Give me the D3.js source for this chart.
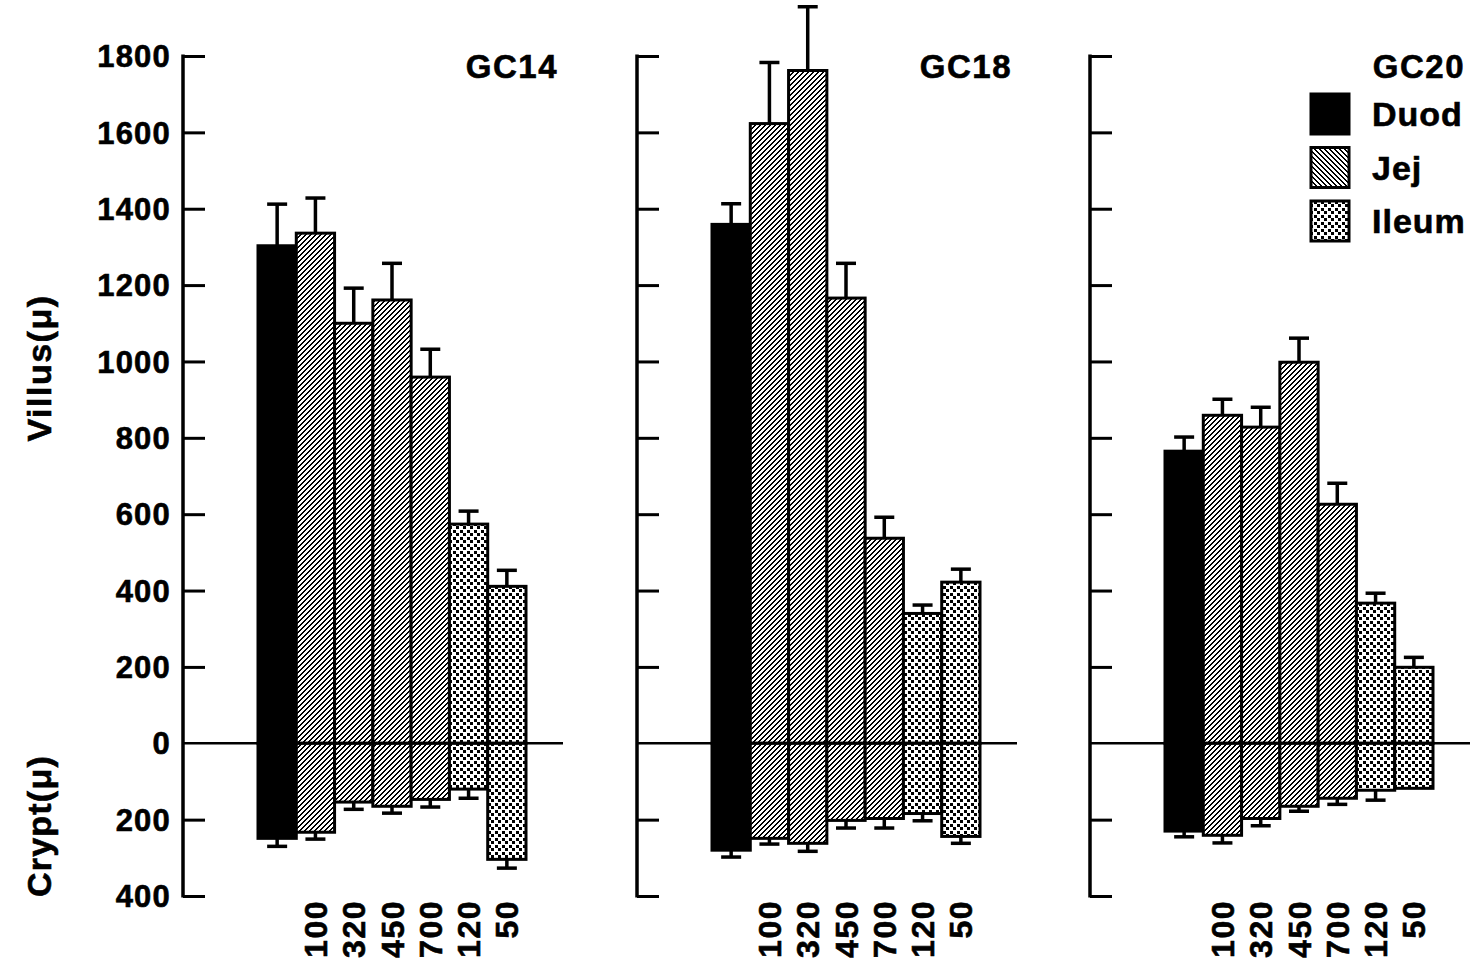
<!DOCTYPE html>
<html>
<head>
<meta charset="utf-8">
<script src="https://cdn.jsdelivr.net/npm/d3@7"></script>
<style>
  body { margin: 0; background: #fff; }
  text { font-family: "Liberation Sans", Arial, sans-serif; font-weight: bold; fill: #000; stroke: #000; stroke-width: 0.6px; }
</style>
</head>
<body>
<div id="chart"></div>
<script>
// panels and bars
var panels = ["GC14", "GC18", "GC20"];
var bars = ["Duod", "100", "320", "450", "700", "120", "50"];
var segment = ["Duod", "Jej", "Jej", "Jej", "Jej", "Ileum", "Ileum"];
var legendNames = ["Duod", "Jej", "Ileum"];

// villus height and its error (microns)
var villusGC14 = [1303, 1336, 1100, 1161, 959, 574, 411];
var villusErrGC14 = [109, 92, 92, 96, 73, 34, 42];
var villusGC18 = [1359, 1623, 1762, 1166, 537, 340, 422];
var villusErrGC18 = [54, 160, 167, 91, 55, 22, 34];
var villusGC20 = [765, 859, 828, 998, 626, 367, 199];
var villusErrGC20 = [37, 42, 52, 63, 55, 26, 26];

// crypt depth and its error (microns, drawn below zero)
var cryptGC14 = [249, 233, 154, 165, 147, 120, 304];
var cryptErrGC14 = [21, 18, 19, 18, 20, 24, 23];
var cryptGC18 = [280, 249, 262, 202, 197, 184, 244];
var cryptErrGC18 = [18, 15, 21, 20, 25, 19, 18];
var cryptGC20 = [230, 241, 197, 165, 144, 123, 118];
var cryptErrGC20 = [15, 20, 19, 13, 16, 26, 0];

var yTicks = [-400, -200, 0, 200, 400, 600, 800, 1000, 1200, 1400, 1600, 1800];

var villus = [villusGC14, villusGC18, villusGC20];
var villusErr = [villusErrGC14, villusErrGC18, villusErrGC20];
var crypt = [cryptGC14, cryptGC18, cryptGC20];
var cryptErr = [cryptErrGC14, cryptErrGC18, cryptErrGC20];

var width = 1473, height = 967;
var axisX = [183, 637, 1090];

var svg = d3.select("#chart").append("svg").attr("width", width).attr("height", height);
var defs = svg.append("defs");

// pixel stair hatch so the stripes stay crisp; dir 1 = "/", -1 = "\"
function hatch(id, dir) {
    var n = 5;
    var p = defs.append("pattern").attr("id", id).attr("patternUnits", "userSpaceOnUse")
        .attr("width", n).attr("height", n).attr("shape-rendering", "crispEdges");
    p.append("rect").attr("width", n).attr("height", n).attr("fill", "#fff");
    for (var r = 0; r < n; r++) {
        var x0 = dir > 0 ? n - 1 - r : r;
        [x0, x0 - n].forEach(function(x) {
            p.append("rect").attr("x", x).attr("y", r).attr("width", 2).attr("height", 1).attr("fill", "#000");
        });
    }
}
hatch("hatch", 1);
hatch("hatchLegend", -1);

var dots = defs.append("pattern").attr("id", "dots").attr("patternUnits", "userSpaceOnUse")
    .attr("width", 7).attr("height", 7).attr("shape-rendering", "crispEdges");
dots.append("rect").attr("width", 7).attr("height", 7).attr("fill", "#fff");
dots.append("rect").attr("x", 1).attr("y", 1).attr("width", 3).attr("height", 3).attr("fill", "#000");
dots.append("rect").attr("x", 4.5).attr("y", 4.5).attr("width", 3).attr("height", 3).attr("fill", "#000");
dots.append("rect").attr("x", -2.5).attr("y", 4.5).attr("width", 3).attr("height", 3).attr("fill", "#000");
dots.append("rect").attr("x", 4.5).attr("y", -2.5).attr("width", 3).attr("height", 3).attr("fill", "#000");
dots.append("rect").attr("x", -2.5).attr("y", -2.5).attr("width", 3).attr("height", 3).attr("fill", "#000");

var fills = { "Duod": "#000", "Jej": "url(#hatch)", "Ileum": "url(#dots)" };
var legendFills = { "Duod": "#000", "Jej": "url(#hatchLegend)", "Ileum": "url(#dots)" };

var y = d3.scaleLinear().domain([-400, 1800]).range([896, 56]);

panels.forEach(function(name, p) {
    var ax = axisX[p];
    var x = d3.scaleBand().domain(bars).range([ax + 75, ax + 343]).padding(0);
    var g = svg.append("g");

    // axis with ticks pointing inward
    var axis = d3.axisRight(y).tickValues(yTicks.filter(function(t){ return t !== 0; }))
        .tickSize(22).tickFormat("");
    var ag = g.append("g").attr("transform", "translate(" + ax + ",0)").call(axis);
    ag.select(".domain").remove();
    ag.selectAll(".tick line").attr("stroke", "#000").attr("stroke-width", 3);
    g.append("line").attr("x1", ax).attr("x2", ax).attr("y1", y(1800) - 1.5).attr("y2", y(-400) + 1.5)
        .attr("stroke", "#000").attr("stroke-width", 3.5);

    if (p === 0) {
        g.selectAll(".ylab").data(yTicks).enter().append("text")
            .attr("x", ax - 12).attr("y", function(d){ return y(d); }).attr("dy", "0.36em")
            .attr("text-anchor", "end").attr("font-size", 31).attr("letter-spacing", 1.2)
            .text(function(d){ return Math.abs(d); });
    }

    var data = bars.map(function(b, i) {
        return { bar: b, seg: segment[i], v: villus[p][i], ve: villusErr[p][i], c: crypt[p][i], ce: cryptErr[p][i] };
    });
    var cx = function(d){ return x(d.bar) + x.bandwidth() / 2; };

    // error bars
    var err = g.selectAll(".err").data(data).enter().append("g")
        .attr("stroke", "#000").attr("stroke-width", 3.5);
    err.append("line").attr("x1", cx).attr("x2", cx)
        .attr("y1", function(d){ return y(d.v); }).attr("y2", function(d){ return y(d.v + d.ve); });
    err.append("line")
        .attr("x1", function(d){ return cx(d) - 10; }).attr("x2", function(d){ return cx(d) + 10; })
        .attr("y1", function(d){ return y(d.v + d.ve); }).attr("y2", function(d){ return y(d.v + d.ve); });
    var ce = err.filter(function(d){ return d.ce > 0; });
    ce.append("line").attr("x1", cx).attr("x2", cx)
        .attr("y1", function(d){ return y(-d.c); }).attr("y2", function(d){ return y(-d.c - d.ce); });
    ce.append("line")
        .attr("x1", function(d){ return cx(d) - 10; }).attr("x2", function(d){ return cx(d) + 10; })
        .attr("y1", function(d){ return y(-d.c - d.ce); }).attr("y2", function(d){ return y(-d.c - d.ce); });

    // villus bars (up) and crypt bars (down)
    g.selectAll(".villus").data(data).enter().append("rect")
        .attr("x", function(d){ return x(d.bar); }).attr("width", x.bandwidth())
        .attr("y", function(d){ return y(d.v); }).attr("height", function(d){ return y(0) - y(d.v); })
        .attr("fill", function(d){ return fills[d.seg]; })
        .attr("stroke", "#000").attr("stroke-width", 3);
    g.selectAll(".crypt").data(data).enter().append("rect")
        .attr("x", function(d){ return x(d.bar); }).attr("width", x.bandwidth())
        .attr("y", y(0)).attr("height", function(d){ return y(-d.c) - y(0); })
        .attr("fill", function(d){ return fills[d.seg]; })
        .attr("stroke", "#000").attr("stroke-width", 3);

    // zero line
    g.append("line").attr("x1", ax).attr("x2", ax + 380).attr("y1", y(0)).attr("y2", y(0))
        .attr("stroke", "#000").attr("stroke-width", 2.5);

    // bar labels under the axis
    g.selectAll(".blab").data(bars.slice(1)).enter().append("text")
        .attr("transform", function(d){ return "translate(" + (x(d) + x.bandwidth() / 2) + ",900) rotate(-90)"; })
        .attr("dy", "0.36em").attr("text-anchor", "end").attr("font-size", 32).attr("letter-spacing", 1.5)
        .text(function(d){ return d; });

    g.append("text").attr("x", ax + 375).attr("y", 78).attr("text-anchor", "end")
        .attr("font-size", 33).attr("letter-spacing", 1.5).text(name);
});

// axis titles
svg.append("text").attr("transform", "translate(51,368) rotate(-90)").attr("text-anchor", "middle")
    .attr("font-size", 34).attr("letter-spacing", 1.5).text("Villus(μ)");
svg.append("text").attr("transform", "translate(51,826) rotate(-90)").attr("text-anchor", "middle")
    .attr("font-size", 34).attr("letter-spacing", 1.2).text("Crypt(μ)");

// legend
var lg = svg.append("g");
var ly = d3.scalePoint().domain(legendNames).range([114, 221]);
lg.selectAll("rect").data(legendNames).enter().append("rect")
    .attr("x", 1311).attr("y", function(d){ return ly(d) - 20; }).attr("width", 38).attr("height", 40)
    .attr("fill", function(d){ return legendFills[d]; }).attr("stroke", "#000").attr("stroke-width", 3);
lg.selectAll("text").data(legendNames).enter().append("text")
    .attr("x", 1372).attr("y", function(d){ return ly(d); }).attr("dy", "0.36em")
    .attr("font-size", 34).attr("letter-spacing", 1).text(function(d){ return d; });
</script>
</body>
</html>
